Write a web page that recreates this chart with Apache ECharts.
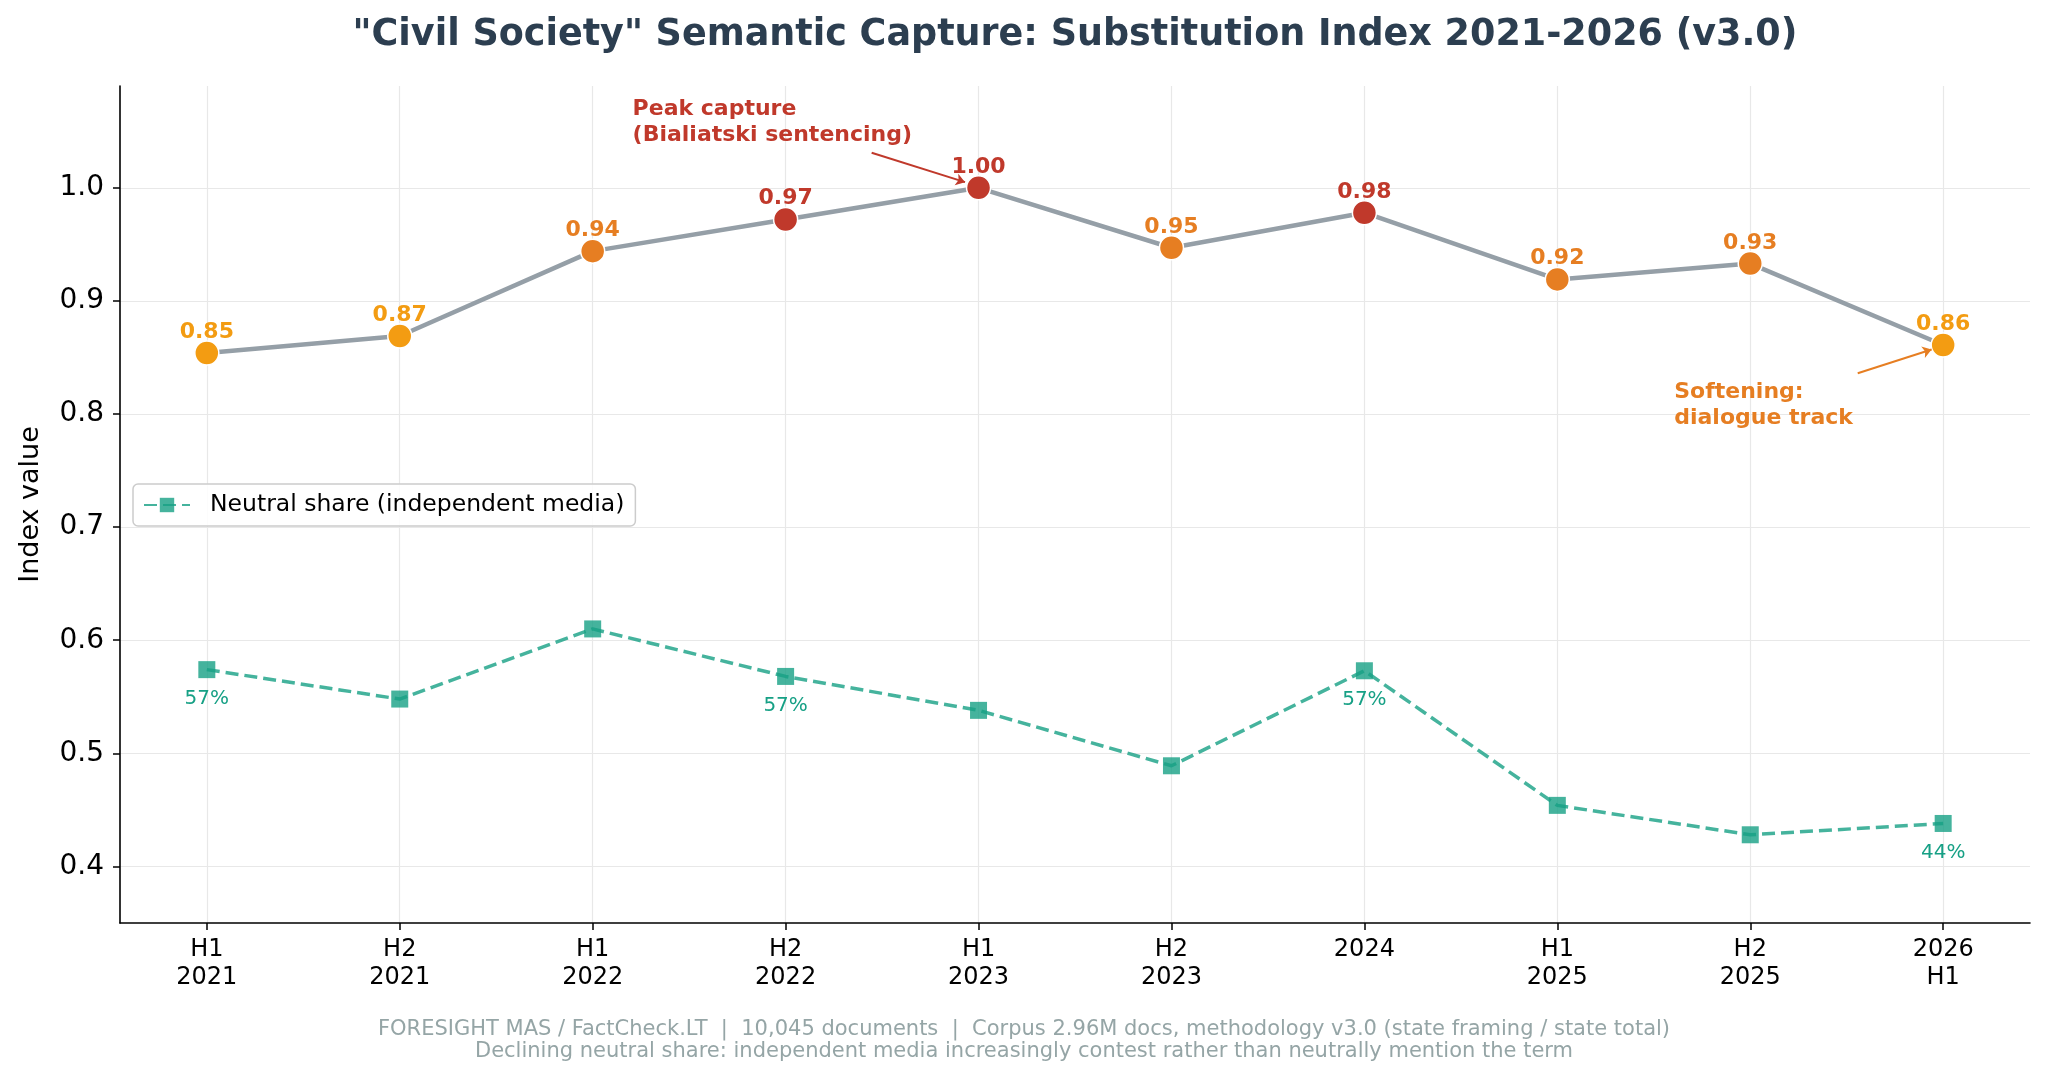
<!DOCTYPE html>
<html><head><meta charset="utf-8">
<script src="https://cdn.jsdelivr.net/npm/echarts@6/dist/echarts.min.js"></script>
<style>html,body{margin:0;padding:0;background:#fff}#c{width:2048px;height:1079px}</style>
</head><body><div id="c"></div>
<script>
// ---- data ----
const categories = ['H1\n2021','H2\n2021','H1\n2022','H2\n2022','H1\n2023','H2\n2023','2024','H1\n2025','H2\n2025','2026\nH1'];
const substitutionIndex = [0.854, 0.869, 0.944, 0.972, 1.0, 0.947, 0.978, 0.919, 0.933, 0.861];
const neutralShare = [0.574, 0.548, 0.610, 0.568, 0.538, 0.489, 0.573, 0.454, 0.428, 0.438];
const yTicks = [0.4, 0.5, 0.6, 0.7, 0.8, 0.9, 1.0];
const neutralLabelEvery = 3;
const seriesNames = ['Substitution index', 'Neutral share (independent media)'];
const titleText = '"Civil Society" Semantic Capture: Substitution Index 2021-2026 (v3.0)';
const footerLines = [
  'FORESIGHT MAS / FactCheck.LT  |  10,045 documents  |  Corpus 2.96M docs, methodology v3.0 (state framing / state total)',
  'Declining neutral share: independent media increasingly contest rather than neutrally mention the term'
];
// annotations anchored in data coordinates
const peakNote = { text: 'Peak capture\n(Bialiatski sentencing)', at: [2.207, 1.0806], from: [3.446, 1.031], to: [3.93, 1.005] };
const softNote = { text: 'Softening:\ndialogue track', at: [7.606, 0.831], from: [8.557, 0.836], to: [8.94, 0.857] };

// ---- styles ----
const FONT = 'DejaVu Sans';
function colorFor(v) { return v >= 0.97 ? '#c0392b' : (v >= 0.9 ? '#e67e22' : '#f39c12'); }
const xIdx = categories.map((_, i) => i);

const chart = echarts.init(document.getElementById('c'), null, { renderer: 'canvas' });
const option = {
  animation: false,
  backgroundColor: '#ffffff',
  textStyle: { fontFamily: FONT },
  grid: { left: 120, right: 18, top: 86, bottom: 156 },
  legend: {
    data: [seriesNames[1]],
    left: 133, top: 484,
    padding: [9, 11, 9, 10],
    borderColor: '#cccccc', borderWidth: 1.5, borderRadius: 5,
    backgroundColor: 'rgba(255,255,255,0.85)',
    itemWidth: 46, itemHeight: 18,
    textStyle: { fontSize: 23.5, color: '#000', fontFamily: FONT, padding: [0, 0, 0, 15] }
  },
  xAxis: {
    type: 'value', min: -0.45, max: 9.45,
    axisLine: { onZero: false, lineStyle: { color: '#000', width: 1.6 } },
    axisTick: { show: true, customValues: xIdx, length: 7, lineStyle: { color: '#000', width: 1.5 } },
    axisLabel: {
      customValues: xIdx, fontSize: 24, lineHeight: 28, color: '#000', margin: 13, fontFamily: FONT,
      formatter: v => categories[Math.round(v)]
    },
    splitLine: { show: true, lineStyle: { color: '#e8e8e8', width: 1.2 } }
  },
  yAxis: {
    type: 'value', min: 0.35, max: 1.09,
    name: 'Index value', nameLocation: 'middle', nameGap: 76,
    nameTextStyle: { fontSize: 27, color: '#000', fontFamily: FONT },
    axisLine: { show: true, onZero: false, lineStyle: { color: '#000', width: 1.6 } },
    axisTick: { show: true, customValues: yTicks, length: 7, lineStyle: { color: '#000', width: 1.5 } },
    axisLabel: { customValues: yTicks, fontSize: 28, color: '#000', margin: 16, fontFamily: FONT, formatter: v => v.toFixed(1) },
    splitLine: { show: true, lineStyle: { color: '#e8e8e8', width: 1.2 } }
  },
  series: [
    {
      name: seriesNames[0], type: 'line', z: 3,
      data: substitutionIndex.map((v, i) => ({
        value: [i, v],
        itemStyle: { color: colorFor(v) },
        label: { color: colorFor(v) }
      })),
      symbol: 'circle', symbolSize: 24,
      itemStyle: { borderColor: '#ffffff', borderWidth: 1.5 },
      lineStyle: { color: '#959fa7', width: 4.5 },
      label: {
        show: true, position: 'top', distance: 0, offset: [0, 3],
        fontSize: 22, fontWeight: 'bold', fontFamily: FONT,
        formatter: p => p.value[1].toFixed(2)
      },
      markLine: {
        silent: true, animation: false,
        symbol: ['none', 'arrow'], symbolSize: 9,
        label: { show: false },
        data: [
          [{ coord: peakNote.from, lineStyle: { color: '#c0392b', width: 2, type: 'solid' } }, { coord: peakNote.to }],
          [{ coord: softNote.from, lineStyle: { color: '#e67e22', width: 2, type: 'solid' } }, { coord: softNote.to }]
        ]
      }
    },
    {
      name: seriesNames[1], type: 'line', z: 2,
      data: neutralShare.map((v, i) => [i, v]),
      symbol: 'rect', symbolSize: 17,
      itemStyle: { color: 'rgba(22,160,133,0.8)' },
      lineStyle: { color: 'rgba(22,160,133,0.8)', width: 3.5, type: [13, 6] },
      label: {
        show: true, position: 'bottom', distance: 11,
        fontSize: 20, color: '#16a085', fontFamily: FONT,
        formatter: p => (p.dataIndex % neutralLabelEvery === 0) ? Math.round(p.value[1] * 100) + '%' : ''
      }
    }
  ]
};
chart.setOption(option);

const pPeak = chart.convertToPixel({ gridIndex: 0 }, peakNote.at);
const pSoft = chart.convertToPixel({ gridIndex: 0 }, softNote.at);
const gl = chart.convertToPixel({ gridIndex: 0 }, [-0.45, 1.0])[0];
const gr = chart.convertToPixel({ gridIndex: 0 }, [9.45, 1.0])[0];
chart.setOption({
  graphic: [
    { type: 'text', x: (gl + gr) / 2, y: 36, silent: true,
      style: { text: titleText, fill: '#2c3e50', font: 'bold 36.5px "' + FONT + '"', align: 'center', verticalAlign: 'middle' } },
    { type: 'text', x: pPeak[0], y: pPeak[1], silent: true,
      style: { text: peakNote.text, fill: '#c0392b', font: 'bold 22px "' + FONT + '"', lineHeight: 26, align: 'left', verticalAlign: 'top' } },
    { type: 'text', x: pSoft[0], y: pSoft[1], silent: true,
      style: { text: softNote.text, fill: '#e67e22', font: 'bold 22px "' + FONT + '"', lineHeight: 26, align: 'left', verticalAlign: 'top' } },
    { type: 'text', x: 1024, y: 1030, silent: true,
      style: { text: footerLines[0], fill: '#95a5a6', font: '21px "' + FONT + '"', align: 'center', verticalAlign: 'middle' } },
    { type: 'text', x: 1024, y: 1052, silent: true,
      style: { text: footerLines[1], fill: '#95a5a6', font: '21px "' + FONT + '"', align: 'center', verticalAlign: 'middle' } }
  ]
});
</script>
</body></html>
